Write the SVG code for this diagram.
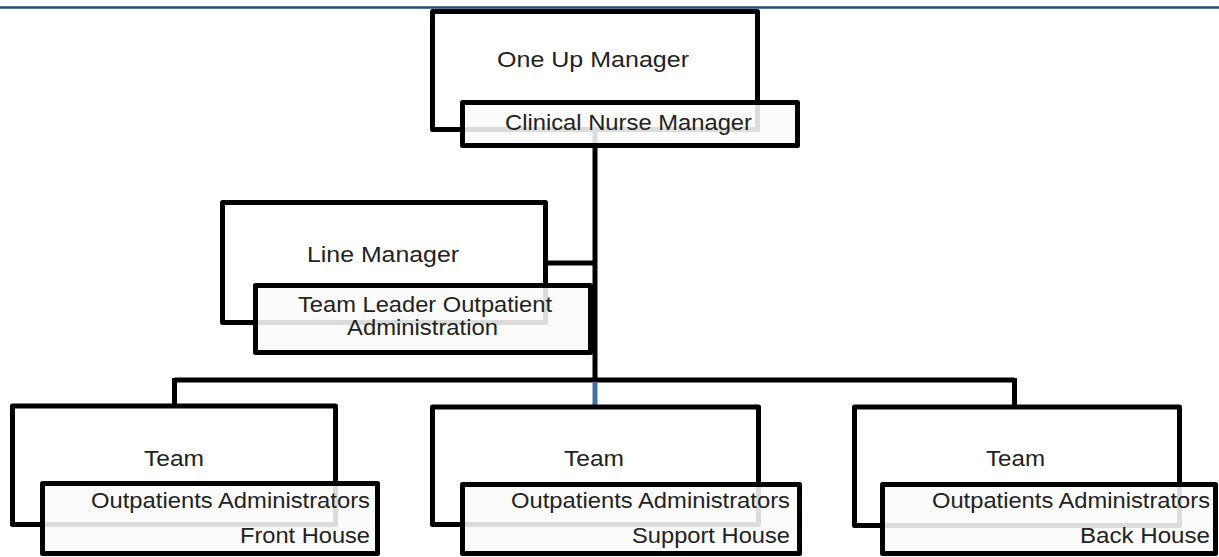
<svg xmlns="http://www.w3.org/2000/svg" width="1219" height="557" viewBox="0 0 1219 557">
<style>
.box{fill:#ffffff;stroke:#000;stroke-width:5;stroke-linejoin:round}
.sub{fill:#fafafa;fill-opacity:0.88;stroke:#000;stroke-width:5;stroke-linejoin:round}
.t{font-family:"Liberation Sans",Arial,sans-serif;font-size:22px;fill:#222}
.e{text-anchor:end}
.c{stroke:#000;stroke-width:5;fill:none}
</style>
<rect width="1219" height="557" fill="#fff"/>
<line x1="0" y1="7.5" x2="1219" y2="7.5" stroke="#1f4e79" stroke-width="2.5"/>
<g id="connectors">
<line class="c" x1="595" y1="129" x2="595" y2="380"/>
<line class="c" x1="545" y1="263" x2="595" y2="263"/>
<line class="c" x1="174.5" y1="380" x2="1014.5" y2="380"/>
<line class="c" x1="174.5" y1="378" x2="174.5" y2="406"/>
<line class="c" x1="1014.5" y1="378" x2="1014.5" y2="407"/>
<line x1="595" y1="382.5" x2="595" y2="407" stroke="#44709f" stroke-width="5"/>
</g>
<g id="node-one-up-manager">
<rect class="box" x="432.5" y="11.5" width="325" height="118"/>
<text class="t" x="497" y="67" textLength="192" lengthAdjust="spacingAndGlyphs">One Up Manager</text>
<rect class="sub" x="462.5" y="102.5" width="335" height="43"/>
<text class="t" x="505" y="130" textLength="247" lengthAdjust="spacingAndGlyphs">Clinical Nurse Manager</text>
</g>
<g id="node-line-manager">
<rect class="box" x="222.5" y="202.5" width="323" height="120"/>
<text class="t" x="307" y="262" textLength="152" lengthAdjust="spacingAndGlyphs">Line Manager</text>
<rect class="sub" x="255.5" y="285.5" width="335" height="67"/>
<text class="t" x="298" y="312" textLength="254" lengthAdjust="spacingAndGlyphs">Team Leader Outpatient</text>
<text class="t" x="347" y="335" textLength="151" lengthAdjust="spacingAndGlyphs">Administration</text>
</g>
<g id="node-team-front">
<rect class="box" x="12.5" y="406" width="323" height="118.5"/>
<text class="t" x="144" y="466" textLength="60" lengthAdjust="spacingAndGlyphs">Team</text>
<rect class="sub" x="42.5" y="483.5" width="335" height="70"/>
<text class="t e" x="370" y="508" textLength="279" lengthAdjust="spacingAndGlyphs">Outpatients Administrators</text>
<text class="t e" x="370" y="543" textLength="130" lengthAdjust="spacingAndGlyphs">Front House</text>
</g>
<g id="node-team-support">
<rect class="box" x="432.5" y="407" width="326" height="117.5"/>
<text class="t" x="564" y="466" textLength="60" lengthAdjust="spacingAndGlyphs">Team</text>
<rect class="sub" x="462.5" y="484.5" width="337" height="69"/>
<text class="t e" x="790" y="508" textLength="279" lengthAdjust="spacingAndGlyphs">Outpatients Administrators</text>
<text class="t e" x="790" y="543" textLength="158" lengthAdjust="spacingAndGlyphs">Support House</text>
</g>
<g id="node-team-back">
<rect class="box" x="854.5" y="407" width="325" height="118.5"/>
<text class="t" x="986" y="466" textLength="59" lengthAdjust="spacingAndGlyphs">Team</text>
<rect class="sub" x="882.5" y="484.5" width="333" height="69"/>
<text class="t e" x="1210" y="508" textLength="278" lengthAdjust="spacingAndGlyphs">Outpatients Administrators</text>
<text class="t e" x="1210" y="543" textLength="130" lengthAdjust="spacingAndGlyphs">Back House</text>
</g>
</svg>
